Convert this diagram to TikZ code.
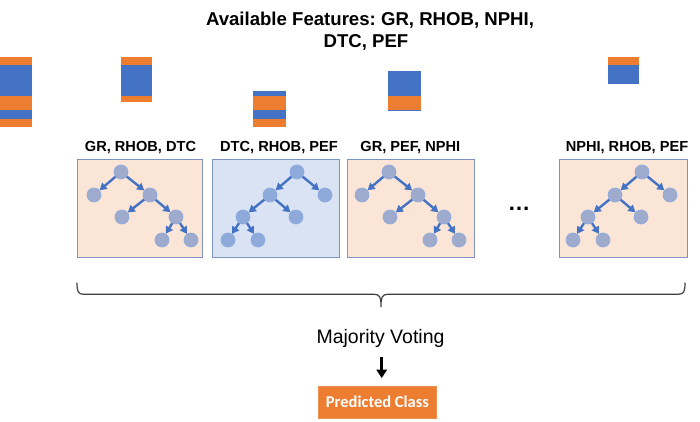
\documentclass[tikz,border=0pt]{standalone}
\usepackage{fontspec}
\setmainfont{Liberation Sans}
\newfontfamily\carlito{Carlito}
\usetikzlibrary{arrows.meta}
\frenchspacing
\definecolor{ofcorange}{HTML}{ED7D31}
\definecolor{ofcblue}{HTML}{4472C4}
\definecolor{peach}{HTML}{FBE5D6}
\definecolor{paleblue}{HTML}{DAE3F3}
\definecolor{boxborder}{HTML}{7F93BF}
\definecolor{bracegray}{HTML}{404040}
\tikzset{
  treebox/.style={draw=boxborder, line width=0.8pt, minimum height=98pt, inner sep=0pt, anchor=north west},
  tnode/.style={circle, minimum size=14pt, inner sep=0pt, fill=ofcblue, fill opacity=0.5, draw=ofcblue!60, draw opacity=1, line width=0.7pt},
  tedge/.style={draw=ofcblue, line width=2.4pt, -{Triangle[length=7pt,width=8pt]}},
  boxlabel/.style={font=\fontsize{14.6}{16}\selectfont\bfseries, anchor=base, inner sep=0pt},
  treeA/.pic={
    \node[tnode] (-r) at (44,13) {};
    \node[tnode] (-l) at (17,36) {};
    \node[tnode] (-rt) at (73,36) {};
    \node[tnode] (-rl) at (45,58) {};
    \node[tnode] (-rr) at (99,58) {};
    \node[tnode] (-rrl) at (85,81) {};
    \node[tnode] (-rrr) at (114,81) {};
    \draw[tedge] (-r) -- (-l);
    \draw[tedge] (-r) -- (-rt);
    \draw[tedge] (-rt) -- (-rl);
    \draw[tedge] (-rt) -- (-rr);
    \draw[tedge] (-rr) -- (-rrl);
    \draw[tedge] (-rr) -- (-rrr);
  },
  treeB/.pic={
    \node[tnode] (-r) at (85,13) {};
    \node[tnode] (-lt) at (58,36) {};
    \node[tnode] (-rt) at (113,36) {};
    \node[tnode] (-ll) at (31,58) {};
    \node[tnode] (-lr) at (84,58) {};
    \node[tnode] (-lll) at (16,81) {};
    \node[tnode] (-llr) at (46,81) {};
    \draw[tedge] (-r) -- (-lt);
    \draw[tedge] (-r) -- (-rt);
    \draw[tedge] (-lt) -- (-ll);
    \draw[tedge] (-lt) -- (-lr);
    \draw[tedge] (-ll) -- (-lll);
    \draw[tedge] (-ll) -- (-llr);
  }
}
\begin{document}
\begin{tikzpicture}[x=1pt,y=-1pt]
\useasboundingbox[fill=white] (0,0) rectangle (700,422);

% title
\node[font=\fontsize{18.6}{22}\selectfont\bfseries, anchor=base, inner sep=0pt] (title1) at (370,26) {Available Features: GR, RHOB, NPHI,};
\node[font=\fontsize{18.6}{22}\selectfont\bfseries, anchor=base, inner sep=0pt] (title2) at (366,48) {DTC, PEF};

% feature stacks
\fill[ofcorange] (0,57) rectangle (32,65);
\fill[ofcblue] (0,65) rectangle (32,96);
\fill[ofcorange] (0,96) rectangle (32,110);
\fill[ofcblue] (0,110) rectangle (32,119);
\fill[ofcorange] (0,119) rectangle (32,127);

\fill[ofcorange] (121,57) rectangle (152,65);
\fill[ofcblue] (121,65) rectangle (152,96);
\fill[ofcorange] (121,96) rectangle (152,102);

\fill[ofcblue] (253,91) rectangle (286,96);
\fill[ofcorange] (253,96) rectangle (286,110);
\fill[ofcblue] (253,110) rectangle (286,119);
\fill[ofcorange] (253,119) rectangle (286,127);

\fill[ofcblue] (388,71) rectangle (421,96);
\fill[ofcorange] (388,96) rectangle (421,110);
\fill[ofcblue] (388,110) rectangle (421,111.5);

\fill[ofcorange] (608,57) rectangle (639,65);
\fill[ofcblue] (608,65) rectangle (639,84);

% labels
\node[boxlabel] (lab1) at (140.5,151.7) {GR, RHOB, DTC};
\node[boxlabel] (lab2) at (279,151.7) {DTC, RHOB, PEF};
\node[boxlabel] (lab3) at (410.3,151.7) {GR, PEF, NPHI};
\node[boxlabel] (lab4) at (627,151.7) {NPHI, RHOB, PEF};

% boxes
\node[treebox, fill=peach, minimum width=125pt] (box1) at (77,159) {};
\node[treebox, fill=paleblue, minimum width=127pt] (box2) at (212,159) {};
\node[treebox, fill=peach, minimum width=127pt] (box3) at (347,159) {};
\node[treebox, fill=peach, minimum width=128pt] (box4) at (559,159) {};

\pic (t1) at (77,159) {treeA};
\pic (t2) at (212,159) {treeB};
\pic (t3) at (345,159) {treeA};
\pic (t4) at (557,159) {treeB};

\node[font=\fontsize{22.5}{24}\selectfont\bfseries, anchor=base, inner sep=0pt] (dots) at (519,210.5) {…};

% brace
\draw[bracegray, line width=1.2pt, line join=round]
  (77,282.7) .. controls (77,291.5) and (78,294.3) .. (84,294.3) -- (374,294.3)
  .. controls (380,294.3) and (381,297) .. (381,306.7)
  .. controls (381,297) and (382,294.3) .. (388,294.3) -- (678,294.3)
  .. controls (684,294.3) and (685,291.5) .. (685,282.7);

% voting
\node[font=\fontsize{19.5}{22}\selectfont, anchor=base, inner sep=0pt] (mv) at (380.5,343.3) {Majority Voting};
\node[fill=ofcorange, draw=ofcorange!85!white, line width=0.6pt, minimum width=118.4pt, minimum height=32.3pt, inner sep=0pt,
      font=\carlito\fontsize{16.5}{18}\selectfont\bfseries, text=white] (pc) at (377.5,402.2) {Predicted Class};
\draw[black, line width=2.8pt, -{Triangle[length=8.5pt,width=10.5pt]}, shorten <=9.4pt, shorten >=7.7pt]
  ([xshift=1.2pt]mv.south) -- ([xshift=1.2pt]mv.south |- pc.north);
\end{tikzpicture}
\end{document}
